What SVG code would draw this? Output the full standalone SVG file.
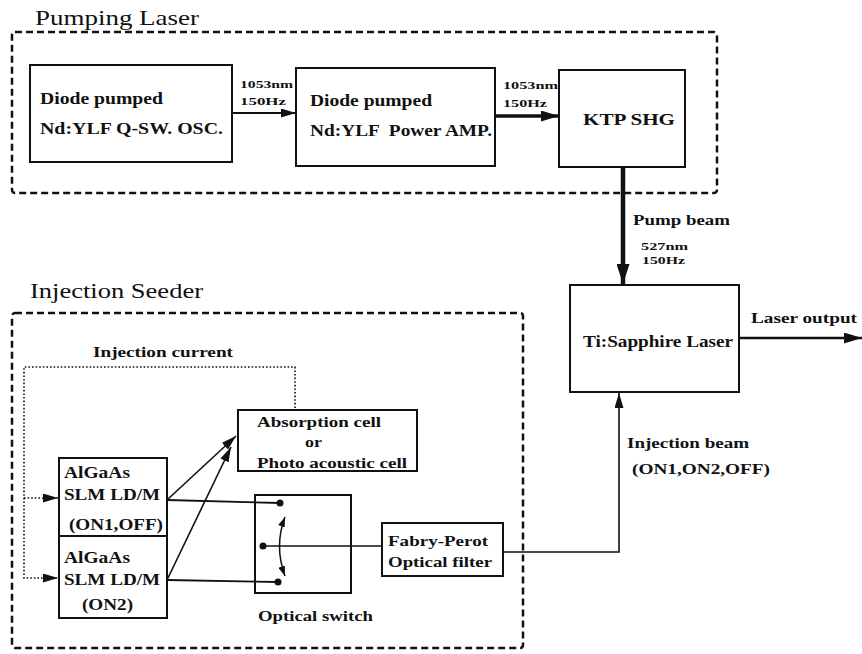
<svg xmlns="http://www.w3.org/2000/svg" width="862" height="654" viewBox="0 0 862 654">
<style>
text{font-family:"Liberation Serif","Times New Roman",Tinos,serif;fill:#111}
.t{font-size:16px;font-weight:600}
.m{font-size:15px;font-weight:bold}
.s{font-size:11px;font-weight:bold}
.h{font-size:21px;font-weight:normal}
.box{fill:#fff;stroke:#111;stroke-width:2}
.grp{fill:none;stroke:#111;stroke-width:2.5;stroke-dasharray:7 4}
.ln{fill:none;stroke:#111}
.dot{fill:none;stroke:#111;stroke-width:1.6;stroke-dasharray:1.6 2}
</style>
<defs>
<marker id="a1" markerUnits="userSpaceOnUse" markerWidth="15" markerHeight="9" refX="15" refY="4.5" orient="auto-start-reverse"><path d="M0,0L15,4.5L0,9z" fill="#111"/></marker>
<marker id="a2" markerUnits="userSpaceOnUse" markerWidth="18" markerHeight="11" refX="18" refY="5.5" orient="auto"><path d="M0,0L18,5.5L0,11z" fill="#111"/></marker>
<marker id="a3" markerUnits="userSpaceOnUse" markerWidth="20" markerHeight="13" refX="20" refY="6.5" orient="auto"><path d="M0,0L20,6.5L0,13z" fill="#111"/></marker>
<marker id="a4" markerUnits="userSpaceOnUse" markerWidth="10" markerHeight="7" refX="10" refY="3.5" orient="auto-start-reverse"><path d="M0,0L10,3.5L0,7z" fill="#111"/></marker>
</defs>

<g id="pumping-laser-group">
<rect class="grp" x="12" y="32" width="705" height="161" rx="3"/>
<text class="h" x="35" y="25" textLength="164" lengthAdjust="spacingAndGlyphs">Pumping Laser</text>
</g>
<g id="injection-seeder-group">
<rect class="grp" x="12" y="313" width="511" height="335" rx="3"/>
<text class="h" x="30" y="298" textLength="173" lengthAdjust="spacingAndGlyphs">Injection Seeder</text>
</g>

<g id="osc">
<rect class="box" x="30" y="65" width="202" height="97"/>
<text class="t" x="40" y="104" textLength="123" lengthAdjust="spacingAndGlyphs">Diode pumped</text>
<text class="t" x="40" y="134" textLength="183" lengthAdjust="spacingAndGlyphs">Nd:YLF Q-SW. OSC.</text>
</g>
<g id="amp">
<rect class="box" x="296" y="68" width="199" height="98"/>
<text class="t" x="310" y="106" textLength="122" lengthAdjust="spacingAndGlyphs">Diode pumped</text>
<text class="t" x="310" y="136" textLength="182" lengthAdjust="spacingAndGlyphs" xml:space="preserve">Nd:YLF  Power AMP.</text>
</g>
<g id="ktp">
<rect class="box" x="559" y="70" width="126" height="97"/>
<text class="t" x="583" y="125" textLength="92" lengthAdjust="spacingAndGlyphs">KTP SHG</text>
</g>
<g id="tisapphire">
<rect class="box" x="570" y="285" width="169" height="107"/>
<text class="t" x="583" y="347" textLength="150" lengthAdjust="spacingAndGlyphs">Ti:Sapphire Laser</text>
</g>
<g id="absorption">
<rect class="box" x="238" y="410" width="179" height="61"/>
<text class="m" x="257" y="427" textLength="124" lengthAdjust="spacingAndGlyphs">Absorption cell</text>
<text class="m" x="305" y="447" textLength="17" lengthAdjust="spacingAndGlyphs">or</text>
<text class="m" x="257" y="468" textLength="150" lengthAdjust="spacingAndGlyphs">Photo acoustic cell</text>
</g>
<g id="ld1">
<rect class="box" x="59" y="458" width="108" height="78"/>
<text class="t" x="64" y="478" textLength="66" lengthAdjust="spacingAndGlyphs">AlGaAs</text>
<text class="t" x="64" y="500" textLength="96" lengthAdjust="spacingAndGlyphs">SLM LD/M</text>
<text class="t" x="69" y="530" textLength="94" lengthAdjust="spacingAndGlyphs">(ON1,OFF)</text>
</g>
<g id="ld2">
<rect class="box" x="59" y="536" width="108" height="82"/>
<text class="t" x="64" y="563" textLength="66" lengthAdjust="spacingAndGlyphs">AlGaAs</text>
<text class="t" x="64" y="585" textLength="96" lengthAdjust="spacingAndGlyphs">SLM LD/M</text>
<text class="t" x="82" y="610" textLength="51" lengthAdjust="spacingAndGlyphs">(ON2)</text>
</g>
<g id="switch">
<rect class="box" x="255" y="495" width="96" height="98"/>
<circle cx="280" cy="503" r="3.5" fill="#111"/>
<circle cx="278" cy="582" r="3.5" fill="#111"/>
<circle cx="263" cy="546" r="3.5" fill="#111"/>
<path class="ln" stroke-width="1.5" d="M285,517Q274,546 285,576" marker-start="url(#a4)" marker-end="url(#a4)"/>
<text class="m" x="258" y="621" textLength="115" lengthAdjust="spacingAndGlyphs">Optical switch</text>
</g>
<g id="fabry-perot">
<rect class="box" x="382" y="523" width="121" height="53"/>
<text class="m" x="388" y="546" textLength="100" lengthAdjust="spacingAndGlyphs">Fabry-Perot</text>
<text class="m" x="388" y="567" textLength="104" lengthAdjust="spacingAndGlyphs">Optical filter</text>
</g>

<g id="connectors">
<line class="ln" stroke-width="2" x1="232" y1="113" x2="296" y2="113" marker-end="url(#a1)"/>
<text class="s" x="240" y="88" textLength="53" lengthAdjust="spacingAndGlyphs">1053nm</text>
<text class="s" x="240" y="105" textLength="46" lengthAdjust="spacingAndGlyphs">150Hz</text>
<line class="ln" stroke-width="3.5" x1="495" y1="116" x2="559" y2="116" marker-end="url(#a2)"/>
<text class="s" x="503" y="89" textLength="55" lengthAdjust="spacingAndGlyphs">1053nm</text>
<text class="s" x="503" y="107" textLength="44" lengthAdjust="spacingAndGlyphs">150Hz</text>
<line class="ln" stroke-width="4.5" x1="623" y1="167" x2="623" y2="284" marker-end="url(#a3)"/>
<text class="m" x="633" y="225" textLength="97" lengthAdjust="spacingAndGlyphs">Pump beam</text>
<text class="s" x="641" y="250" textLength="47" lengthAdjust="spacingAndGlyphs">527nm</text>
<text class="s" x="642" y="264" textLength="43" lengthAdjust="spacingAndGlyphs">150Hz</text>
<line class="ln" stroke-width="2.5" x1="739" y1="338" x2="862" y2="338" marker-end="url(#a2)"/>
<text class="m" x="751" y="323" textLength="106" lengthAdjust="spacingAndGlyphs">Laser output</text>
<polyline class="ln" stroke-width="1.6" points="503,552 619,552 619,393" marker-end="url(#a1)"/>
<text class="m" x="627" y="448" textLength="122" lengthAdjust="spacingAndGlyphs">Injection beam</text>
<text class="m" x="632" y="474" textLength="138" lengthAdjust="spacingAndGlyphs">(ON1,ON2,OFF)</text>
<path class="dot" d="M295,408V367H24V578H58" marker-end="url(#a1)"/>
<path class="dot" d="M24,498H58" marker-end="url(#a1)"/>
<text class="m" x="93" y="357" textLength="140" lengthAdjust="spacingAndGlyphs">Injection current</text>
<line class="ln" stroke-width="1.6" x1="167" y1="500" x2="236" y2="436" marker-end="url(#a1)"/>
<line class="ln" stroke-width="1.6" x1="167" y1="580" x2="231" y2="447" marker-end="url(#a1)"/>
<line class="ln" stroke-width="1.8" x1="167" y1="500" x2="280" y2="503"/>
<line class="ln" stroke-width="1.8" x1="167" y1="580" x2="278" y2="582"/>
<line class="ln" stroke-width="1.6" x1="263" y1="546" x2="382" y2="546"/>
</g>
</svg>
